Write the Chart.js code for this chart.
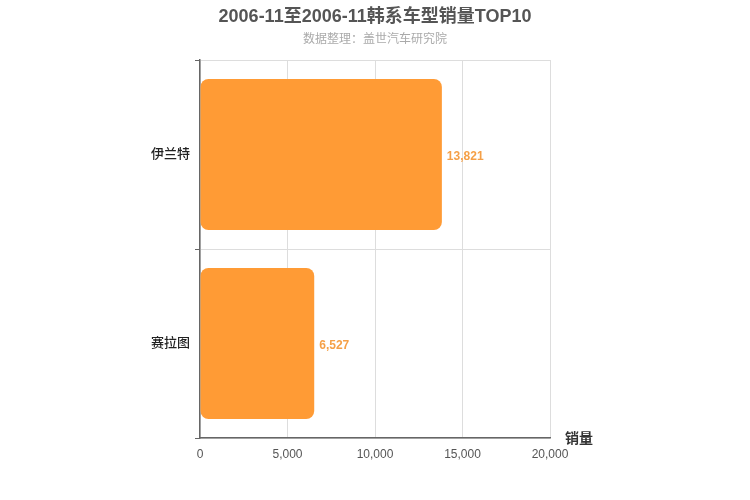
<!DOCTYPE html>
<html>
<head>
<meta charset="utf-8">
<script src="https://cdn.jsdelivr.net/npm/chart.js@4/dist/chart.umd.min.js"></script>
<style>
  html, body { margin: 0; padding: 0; background: #fff; }
  #wrap { width: 750px; height: 500px; }
</style>
</head>
<body>
<div id="wrap"><canvas id="salesChart" width="750" height="500"></canvas></div>
<script>
// chart data
const models = ['伊兰特', '赛拉图'];
const sales = [13821, 6527];
const xTicks = [0, 5000, 10000, 15000, 20000];

const titleText = '2006-11至2006-11韩系车型销量TOP10';
const subtitleText = '数据整理：盖世汽车研究院';
const axisName = '销量';

const FONT = '"Liberation Sans", "Noto Sans CJK SC", sans-serif';

// title centred on the whole canvas, value labels, axis name
const labelPlugin = {
    id: 'labels',
    afterDraw(chart) {
        const ctx = chart.ctx;
        const meta = chart.getDatasetMeta(0);
        ctx.save();
        ctx.textBaseline = 'middle';
        ctx.textAlign = 'center';
        ctx.font = 'bold 18px ' + FONT;
        ctx.fillStyle = '#555';
        ctx.fillText(titleText, chart.width / 2, 17);
        ctx.font = '12px ' + FONT;
        ctx.fillStyle = '#aaa';
        ctx.fillText(subtitleText, chart.width / 2, 40);

        ctx.textAlign = 'left';
        ctx.font = 'bold 12px ' + FONT;
        ctx.fillStyle = '#f5a047';
        meta.data.forEach((bar, i) => {
            ctx.fillText(sales[i].toLocaleString('en-US'), bar.x + 5, bar.y + 2);
        });
        const area = chart.chartArea;
        ctx.font = 'bold 14px ' + FONT;
        ctx.fillStyle = '#333';
        ctx.fillText(axisName, area.right + 15, area.bottom + 1);
        ctx.restore();
    }
};

const ctx = document.getElementById('salesChart').getContext('2d');
new Chart(ctx, {
    type: 'bar',
    data: {
        labels: models,
        datasets: [{
            data: sales,
            backgroundColor: '#ff9b35',
            borderRadius: 8,
            borderSkipped: false,
            barPercentage: 0.8,
            categoryPercentage: 1
        }]
    },
    options: {
        indexAxis: 'y',
        responsive: false,
        animation: false,
        layout: { padding: { left: 0, right: 200, top: 60, bottom: 0 } },
        plugins: {
            legend: { display: false },
            tooltip: { enabled: false },
            title: { display: false },
            subtitle: { display: false }
        },
        scales: {
            x: {
                min: 0,
                max: 20000,
                afterBuildTicks(scale) {
                    scale.ticks = xTicks.map(v => ({ value: v }));
                },
                afterFit(scale) { scale.height = 62; },
                grid: { color: '#ddd', drawTicks: false },
                border: { color: '#666', width: 1.5 },
                ticks: {
                    color: '#555',
                    padding: 9,
                    font: { family: FONT, size: 12 },
                    callback: v => v.toLocaleString('en-US')
                }
            },
            y: {
                afterFit(scale) { scale.width = 200; },
                grid: { color: '#ddd', tickColor: '#666', tickLength: 5, offset: true },
                border: { color: '#666', width: 1.5 },
                ticks: {
                    color: '#222',
                    padding: 5,
                    font: { family: FONT, size: 13, weight: '500' }
                }
            }
        }
    },
    plugins: [labelPlugin]
});
</script>
</body>
</html>
